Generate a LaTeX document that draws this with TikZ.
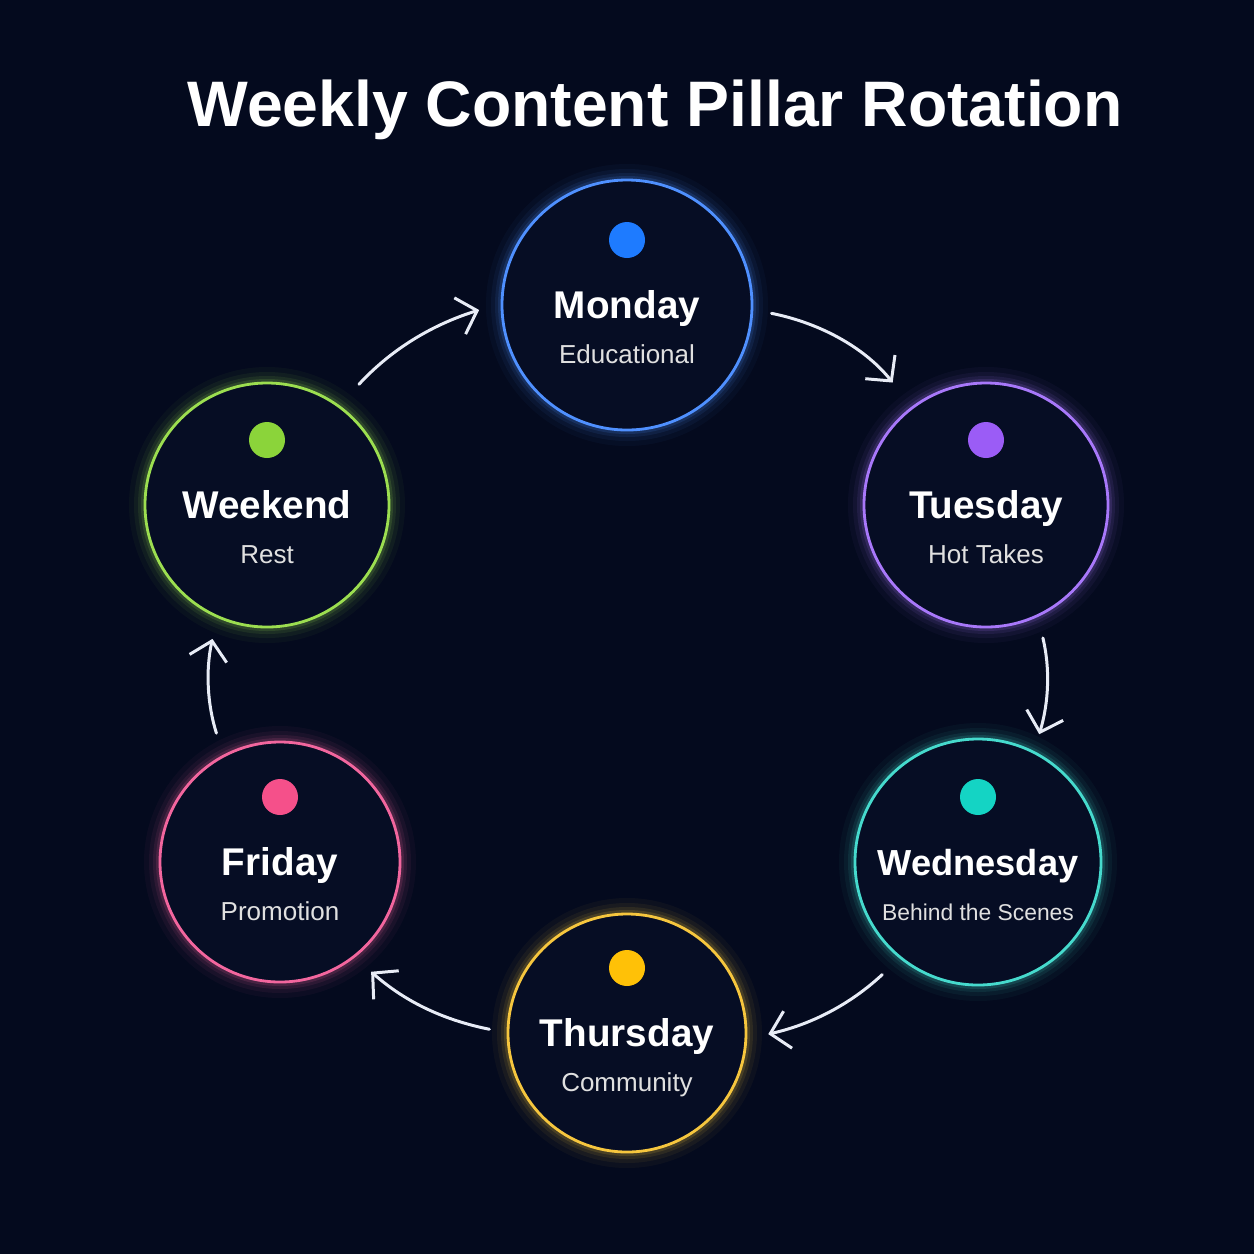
\documentclass[tikz,border=0pt]{standalone}
\usepackage{fontspec}
\setmainfont{Liberation Sans}
\usetikzlibrary{arrows.meta}
\definecolor{bgnavy}{HTML}{040A1E}
\definecolor{ringfill}{HTML}{060D24}
\definecolor{monblue}{HTML}{4F90FF}
\definecolor{tuepurple}{HTML}{A878FA}
\definecolor{wedteal}{HTML}{46DACD}
\definecolor{thuyellow}{HTML}{F6C63E}
\definecolor{fripink}{HTML}{F2669E}
\definecolor{wkndgreen}{HTML}{9CDE50}
\definecolor{dotblue}{HTML}{1E7BFF}
\definecolor{dotpurple}{HTML}{9B5CF6}
\definecolor{dotteal}{HTML}{14D4C4}
\definecolor{dotyellow}{HTML}{FFC107}
\definecolor{dotpink}{HTML}{F5508A}
\definecolor{dotgreen}{HTML}{8BD43A}
\definecolor{flowwhite}{HTML}{E8ECF6}
\tikzset{
    dayring/.style={circle, draw=#1, line width=0.28mm, fill=ringfill, inner sep=0pt, outer sep=0pt},
    daydot/.style={circle, fill=#1, minimum size=3.6mm, inner sep=0pt},
    dayname/.style={text=white, anchor=base},
    daytopic/.style={text=white!88!black, anchor=base},
    flow/.style={draw=flowwhite, line width=0.85pt, line cap=round,
        -{Straight Barb[length=1.8mm, width=3.8mm, line width=0.85pt]}}
}
\begin{document}
\begin{tikzpicture}[x=0.1mm, y=-0.1mm]
    \fill[bgnavy] (0,0) rectangle (1254,1254);
    \useasboundingbox (0,0) rectangle (1254,1254);

    \node[text=white, font=\bfseries\fontsize{18.3}{22}\selectfont] (title) at (655,110) {Weekly Content Pillar Rotation};

    % Day circles
    \foreach \id/\cx/\cy/\rad/\col/\dotcol/\day/\nsz/\topic/\tsz in {
        mon/627/305/125/monblue/dotblue/Monday/11/Educational/7.4,
        tue/986/505/122/tuepurple/dotpurple/Tuesday/11/Hot Takes/7.4,
        wed/978/862/123/wedteal/dotteal/Wednesday/10.3/Behind the Scenes/6.5,
        thu/627/1033/119/thuyellow/dotyellow/Thursday/11/Community/7.4,
        fri/280/862/120/fripink/dotpink/Friday/11/Promotion/7.4,
        wknd/267/505/122/wkndgreen/dotgreen/Weekend/11/Rest/7.4} {
        \foreach \w/\o in {3.2/0.04, 2.2/0.06, 1.4/0.09, 0.8/0.14} {
            \draw[\col, line width=\w mm, opacity=\o] (\cx,\cy) circle[radius={0.1mm*\rad}];
        }
        \node[dayring=\col, minimum size={0.2mm*\rad}] (\id) at (\cx,\cy) {};
        \node[daydot=\dotcol] (\id dot) at (\cx,\cy-65) {};
        \node[dayname, font=\bfseries\fontsize{\nsz}{13}\selectfont] (\id name) at (\cx,\cy+13) {\day};
        \node[daytopic, font=\fontsize{\tsz}{10}\selectfont] (\id topic) at (\cx,\cy+58) {\topic};
    }

    % Rotation arrows
    \draw[flow, shorten <=2mm, shorten >=3.2mm] (mon.-2) to[bend left=20] (tue.127);
    \draw[flow, shorten <=2.3mm, shorten >=1.9mm] (tue.-65) to[bend left=15] (wed.63);
    \draw[flow, shorten <=2.5mm, shorten >=2.3mm] (wed.-129) to[bend left=15] (thu.-3);
    \draw[flow, shorten <=1.9mm, shorten >=2.3mm] (thu.180) to[bend left=15] (fri.-52);
    \draw[flow, shorten <=2.4mm, shorten >=2.3mm] (fri.118) to[bend left=15] (wknd.-114);
    \draw[flow, shorten <=3mm, shorten >=2.4mm] (wknd.54) to[bend left=15] (mon.179);
\end{tikzpicture}
\end{document}
